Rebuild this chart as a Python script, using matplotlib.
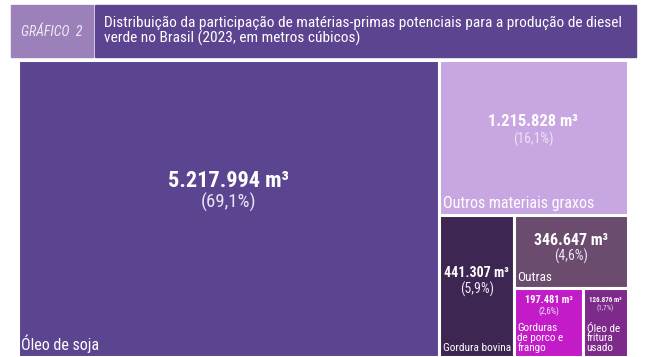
import matplotlib
matplotlib.use("Agg")
import matplotlib.pyplot as plt
from matplotlib.patches import Rectangle

# data
categories = ["Óleo de soja", "Outros materiais graxos", "Gordura bovina", "Outras",
              "Gorduras\nde porco e\nfrango", "Óleo de\nfritura\nusado"]
volumes = [5217994, 1215828, 441307, 346647, 197481, 126876]
shares = ["69,1%", "16,1%", "5,9%", "4,6%", "2,6%", "1,7%"]

colors = ["#5b4590", "#c8a6e2", "#3d2652", "#6b4b6e", "#c31bc8", "#7d2a8a"]
title = ("Distribuição da participação de matérias-primas potenciais para a produção de diesel\n"
         "verde no Brasil (2023, em metros cúbicos)")

plt.rcParams['font.family'] = ['Roboto Condensed', 'Lato', 'DejaVu Sans']

FW, FH = 657, 357


def layout(v, W, H):
    # soja column | (outros on top / bottom row)
    soja, outros, bovina, outras, porco, fritura = v
    total = sum(v)
    w0 = W * soja / total
    x1, w1 = w0, W - w0
    h1 = H * outros / (total - soja)
    hb = H - h1
    w2 = w1 * bovina / (bovina + outras + porco + fritura)
    x3, w3 = x1 + w2, w1 - w2
    h3 = hb * outras / (outras + porco + fritura)
    w4 = w3 * porco / (porco + fritura)
    return [(0, 0, w0, H), (x1, 0, w1, h1), (x1, h1, w2, hb), (x3, h1, w3, h3),
            (x3, h1 + h3, w4, hb - h3), (x3 + w4, h1 + h3, w3 - w4, hb - h3)]


fig = plt.figure(figsize=(FW / 100, FH / 100), dpi=100)

def fx(p):
    return p / FW

def fy(p):
    return 1 - p / FH

# header boxes
fig.patches.append(Rectangle((fx(11), fy(57)), fx(93) - fx(11), fy(5) - fy(57),
                             transform=fig.transFigure, color="#9c80b9"))
fig.patches.append(Rectangle((fx(95), fy(57)), fx(636) - fx(95), fy(5) - fy(57),
                             transform=fig.transFigure, color="#5c4491"))
fig.text(fx(52), fy(32), "GRÁFICO  2", color="#f0eaf6", fontsize=10, style="italic",
         ha="center", va="center")
fig.text(fx(104), fy(31), title, color="white", fontsize=11.1, ha="left", va="center",
         linespacing=1.1)

# treemap area
left, right, top, bottom = 17.5, 627.5, 59.5, 356.5
ax = fig.add_axes([fx(left), fy(bottom), fx(right) - fx(left), fy(top) - fy(bottom)])
W, H = right - left, bottom - top
ax.set_xlim(0, W)
ax.set_ylim(H, 0)
ax.axis("off")

val_size = [16, 12, 10, 11.5, 7.5, 5]
pct_size = [13.5, 10, 10, 10, 6.2, 5]
pct_gap = [15, 13, 12, 11, 8, 6.5]
lab_size = [11.5, 11.5, 8.2, 9.5, 8, 8]
val_pos = [0.41, 0.40, 0.41, 0.36, 0.18, 0.17]

cells = layout(volumes, W, H)
for i, (x, y, w, h) in enumerate(cells):
    ax.add_patch(Rectangle((x, y), w, h, facecolor=colors[i], edgecolor="white",
                           linewidth=2.2, clip_on=False))
    cx, cy = x + w / 2, y + h * val_pos[i]
    val = f"{volumes[i]:,}".replace(",", ".") + " m³"
    ax.annotate(val, (cx, cy), ha="center", va="center", color="white",
                fontsize=val_size[i], fontweight="bold")
    ax.annotate(f"({shares[i]})", (cx, cy), xytext=(0, -pct_gap[i]),
                textcoords="offset points", ha="center", va="center",
                color="#ece4f4", fontsize=pct_size[i])
    ax.annotate(categories[i], (x, y + h), xytext=(2.5, 2.5), textcoords="offset points",
                ha="left", va="bottom", color="white", fontsize=lab_size[i],
                linespacing=0.95)

fig.savefig("out.png", dpi=100)
